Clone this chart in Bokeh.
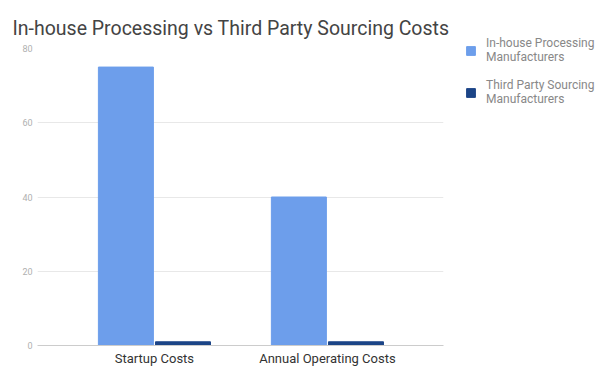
from bokeh.plotting import figure
from bokeh.models import ColumnDataSource, Range1d, FixedTicker, Legend, LegendItem
from bokeh.embed import file_html
from bokeh.resources import INLINE

categories = ["Startup Costs", "Annual Operating Costs"]
series_names = ["In-house Processing\nManufacturers", "Third Party Sourcing\nManufacturers"]
inhouse = [75, 40]
third_party = [1, 1]
y_ticks = [0, 20, 40, 60, 80]
colors = ["#6D9EEB", "#1C4587"]

idx = list(range(len(categories)))
offset = 0.165
bw = 0.318

p = figure(frame_width=406, frame_height=297, output_backend="svg", toolbar_location=None,
           x_range=Range1d(-0.676, 1.671), y_range=Range1d(0, 80),
           min_border_left=37, min_border_right=167, min_border_top=48, min_border_bottom=23,
           title="In-house Processing vs Third Party Sourcing Costs")

src1 = ColumnDataSource(dict(x=[i - offset for i in idx], top=inhouse))
src2 = ColumnDataSource(dict(x=[i + offset for i in idx], top=third_party))
r1 = p.vbar(x="x", top="top", width=bw, source=src1, color=colors[0])
r2 = p.vbar(x="x", top="top", width=bw, source=src2, color=colors[1])

p.outline_line_color = None
p.title.text_font = "Roboto"
p.title.text_font_size = "19.5px"
p.title.text_font_style = "normal"
p.title.text_color = "#444444"
p.title.offset = -25
p.title.vertical_align = "top"
p.title.standoff = 14

p.xaxis.ticker = FixedTicker(ticks=idx)
p.xaxis.major_label_overrides = {i: c for i, c in zip(idx, categories)}
p.xaxis.major_tick_line_color = None
p.xaxis.minor_tick_line_color = None
p.xaxis.major_tick_out = 0
p.xaxis.major_tick_in = 0
p.xaxis.axis_line_color = "#cccccc"
p.xaxis.major_label_text_font = "Roboto"
p.xaxis.major_label_text_font_size = "13px"
p.xaxis.major_label_text_color = "#333333"
p.xaxis.major_label_standoff = 5
p.xgrid.grid_line_color = None

p.yaxis.ticker = FixedTicker(ticks=y_ticks)
p.yaxis.axis_line_color = None
p.yaxis.major_tick_line_color = None
p.yaxis.minor_tick_line_color = None
p.yaxis.major_tick_out = 0
p.yaxis.major_tick_in = 0
p.yaxis.major_label_text_font = "Roboto"
p.yaxis.major_label_text_font_size = "9px"
p.yaxis.major_label_text_color = "#b0b0b0"
p.yaxis.major_label_standoff = 5
p.ygrid.grid_line_color = "#e8e8e8"

legend = Legend(items=[LegendItem(label=series_names[0], renderers=[r1]),
                       LegendItem(label=series_names[1], renderers=[r2])],
                location=(22, 239), border_line_color=None, background_fill_alpha=0,
                label_text_font="Roboto", label_text_font_size="12px",
                label_text_color="#888888", label_text_line_height=1.15,
                glyph_width=11, glyph_height=11,
                spacing=14, padding=0, margin=0, label_standoff=10,
                label_height=20)
p.add_layout(legend, "right")

open("out.html", "w").write(file_html(p, INLINE))
